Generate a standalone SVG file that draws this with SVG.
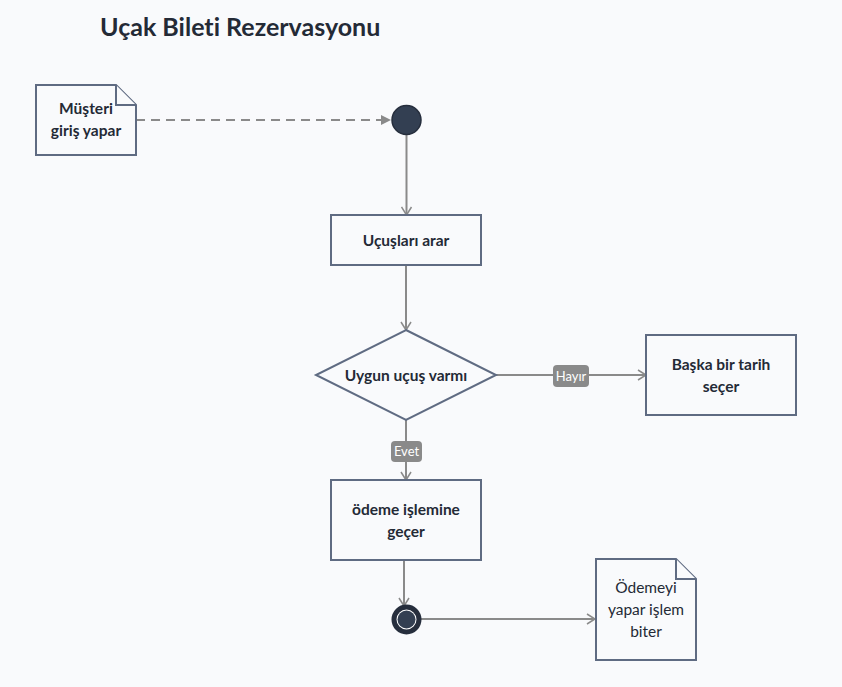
<svg xmlns="http://www.w3.org/2000/svg" width="842" height="687" viewBox="0 0 842 687">
<defs>
<style>
.bg{fill:#f9fafc}
text{font-variant-ligatures:none}
.node{fill:#f9fafc;stroke:#5f6b82;stroke-width:2}
.t{font-family:Lato,"Open Sans","Liberation Sans",sans-serif;font-size:15.5px;fill:#242a36;text-anchor:middle}
.b{font-weight:bold}
.conn{fill:none;stroke:#8a8a8a;stroke-width:2}
.lbl{fill:#8a8a8a}
.lt{font-family:Lato,"Open Sans","Liberation Sans",sans-serif;font-size:13px;fill:#ffffff;text-anchor:middle}
</style>
<marker id="open" markerWidth="12" markerHeight="12" refX="10" refY="6" orient="auto" markerUnits="userSpaceOnUse">
<path d="M2,1 L10,6 L2,11" fill="none" stroke="#8a8a8a" stroke-width="1.5"/>
</marker>
<marker id="tri" markerWidth="12" markerHeight="12" refX="10" refY="6" orient="auto" markerUnits="userSpaceOnUse">
<path d="M0,1 L10,6 L0,11 Z" fill="#8a8a8a"/>
</marker>
</defs>
<rect class="bg" x="0" y="0" width="842" height="687"/>
<text x="100" y="36" font-family="Lato,'Open Sans','Liberation Sans',sans-serif" font-size="25" font-weight="bold" fill="#242a36">Uçak Bileti Rezervasyonu</text>

<g id="connectors">
<path class="conn" d="M136,120 L391,120" stroke-dasharray="9,6" marker-end="url(#tri)"/>
<path class="conn" d="M406.5,135 L406.5,215" marker-end="url(#open)"/>
<path class="conn" d="M406,265 L406,330" marker-end="url(#open)"/>
<path class="conn" d="M496,375 L646,375" marker-end="url(#open)"/>
<path class="conn" d="M406,420 L406,480" marker-end="url(#open)"/>
<path class="conn" d="M404,545 L404,606" marker-end="url(#open)"/>
<path class="conn" d="M421,619 L595,619" marker-end="url(#open)"/>
<g id="label-hayir">
<rect class="lbl" x="553" y="365" width="36" height="22" rx="4"/>
<text class="lt" x="571" y="380.5">Hayır</text>
</g>
<g id="label-evet">
<rect class="lbl" x="391" y="441" width="31" height="21" rx="4"/>
<text class="lt" x="406.5" y="456">Evet</text>
</g>
</g>

<g id="note-musteri">
<path class="node" d="M36,85 L116,85 L136,105 L136,155 L36,155 Z"/>
<path class="node" d="M116,85 L116,105 L136,105"/>
<text class="t b" x="86" y="114">Müşteri</text>
<text class="t b" x="86" y="136">giriş yapar</text>
</g>

<g id="start">
<circle cx="406.5" cy="120" r="14.5" fill="#333f52" stroke="#262e3d" stroke-width="1.5"/>
</g>

<g id="ucuslari-arar">
<rect class="node" x="331" y="215" width="150" height="50"/>
<text class="t b" x="406" y="246">Uçuşları arar</text>
</g>

<g id="uygun-ucus">
<path class="node" d="M406,330 L496,375 L406,420 L316,375 Z"/>
<text class="t b" x="406" y="381">Uygun uçuş varmı</text>
</g>

<g id="baska-tarih">
<rect class="node" x="646" y="335" width="150" height="80"/>
<text class="t b" x="721" y="370">Başka bir tarih</text>
<text class="t b" x="721" y="392">seçer</text>
</g>

<g id="odeme">
<rect class="node" x="331" y="480" width="150" height="80"/>
<text class="t b" x="406" y="515">ödeme işlemine</text>
<text class="t b" x="406" y="537">geçer</text>
</g>

<g id="end">
<circle cx="406.5" cy="619.5" r="12.5" fill="#ffffff" stroke="#262e3d" stroke-width="5"/>
<circle cx="406.5" cy="619.5" r="9" fill="#333f52"/>
</g>

<g id="note-odemeyi">
<path class="node" d="M596,559 L676,559 L696,579 L696,660 L596,660 Z"/>
<path class="node" d="M676,559 L676,579 L696,579"/>
<text class="t" x="646" y="593">Ödemeyi</text>
<text class="t" x="646" y="615">yapar işlem</text>
<text class="t" x="646" y="637">biter</text>
</g>
</svg>
